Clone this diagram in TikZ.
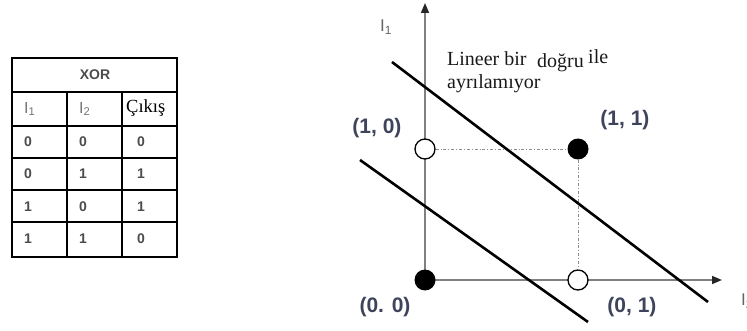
\documentclass[tikz,border=0pt]{standalone}
\usepackage{fontspec}
\setmainfont{Liberation Serif}
\setsansfont{Liberation Sans}
\usetikzlibrary{arrows.meta}
\definecolor{lblcol}{RGB}{62,68,92}

\begin{document}
\begin{tikzpicture}[x=1pt,y=-1pt,
    cell/.style={font=\sffamily\bfseries\fontsize{14}{16}\selectfont,text=black!70,anchor=west,inner sep=0pt},
    axisline/.style={draw=black!50,line width=1.6pt,-{Triangle[length=10pt,width=8pt,color=black!85]}},
    hollowpt/.style={circle,draw=black,fill=white,line width=1.3pt,minimum size=20pt,inner sep=0pt},
    fullpt/.style={circle,fill=black,minimum size=21pt,inner sep=0pt},
    sepline/.style={line width=2.6pt},
    lbl/.style={font=\sffamily\bfseries\fontsize{21}{24}\selectfont,text=lblcol,inner sep=0pt},
    note/.style={font=\fontsize{20}{22}\selectfont,text=black!90,anchor=base west,inner sep=0pt}]
  \useasboundingbox (0,0) rectangle (747,331);
  % XOR table
  \foreach \yy in {92,126,158,190,222}
    \draw[line width=1.2pt] (12,\yy) -- (177,\yy);
  \foreach \xx in {67,122}
    \draw[line width=1.2pt] (\xx,92) -- (\xx,257);
  \draw[line width=2.8pt] (12,58) rectangle (177,257);
  \node[cell,anchor=center] (xor) at (95,75) {XOR};
  \node[cell,font=\sffamily\fontsize{16}{18}\selectfont,text=black!55] (h1) at (24,109) {I\textsubscript{1}};
  \node[cell,font=\sffamily\fontsize{16}{18}\selectfont,text=black!55] (h2) at (79,109) {I\textsubscript{2}};
  \node[cell,font=\fontsize{18.5}{20}\selectfont,text=black] (h3) at (126,108) {Çıkış};
  \foreach \a/\b/\c [count=\r] in {0/0/0,0/1/1,1/0/1,1/1/0} {
    \node[cell] (a\r) at (24,109+32.4*\r) {\a};
    \node[cell] (b\r) at (79,109+32.4*\r) {\b};
    \node[cell] (c\r) at (137,109+32.4*\r) {\c};
  }
  % axes
  \coordinate (o) at (425,280);
  \coordinate (ytop) at (425,3);
  \coordinate (xend) at (722,280);
  \draw[axisline] (o) -- (ytop);
  \draw[axisline] (o) -- (xend);
  \node[font=\sffamily\fontsize{17}{19}\selectfont,text=black!60] (i1) at (386,27) {I\textsubscript{1}};
  \node[font=\sffamily\fontsize{17}{19}\selectfont,text=black!60,anchor=west,inner sep=0pt] (i2) at (741,301) {I\textsubscript{2}};
  % points
  \node[hollowpt] (p10) at (425,149) {};
  \node[fullpt] (p11) at (578,149) {};
  \node[fullpt] (p00) at (425,280) {};
  \node[hollowpt] (p01) at (578,280) {};
  \draw[black!45,line width=0.8pt,dash dot] (p10) -- (p11);
  \draw[black!45,line width=0.8pt,dash dot] (p11) -- (p01);
  % separating lines
  \coordinate (s1a) at (392,62);
  \coordinate (s1b) at (708,302);
  \coordinate (s2a) at (360,160);
  \coordinate (s2b) at (588,322);
  \draw[sepline] (s1a) -- (s1b);
  \draw[sepline] (s2a) -- (s2b);
  % labels
  \node[lbl] (l10) at (377,128) {(1, 0)};
  \node[lbl] (l11) at (625,120) {(1, 1)};
  \node[lbl] (l00) at (385,307) {(0. 0)};
  \node[lbl] (l01) at (632,307) {(0, 1)};
  \node[note] (t1) at (447,66) {Lineer bir};
  \node[note] (t2) at (537,68) {doğru};
  \node[note] (t3) at (588,64) {ile};
  \node[note] (t4) at (447,89) {ayrılamıyor};
\end{tikzpicture}
\end{document}
